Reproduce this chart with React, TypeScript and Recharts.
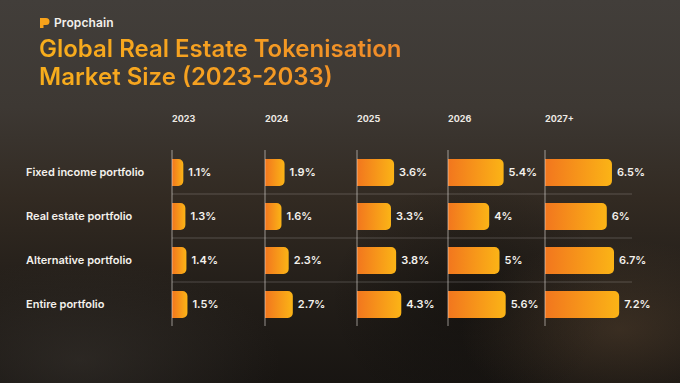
import React from 'react';
import { BarChart, Bar, XAxis, YAxis, CartesianGrid, ReferenceLine, LabelList } from 'recharts';

const categories = ['Fixed income portfolio', 'Real estate portfolio', 'Alternative portfolio', 'Entire portfolio'];
const years = ['2023', '2024', '2025', '2026', '2027+'];
const share2023 = [1.1, 1.3, 1.4, 1.5];
const share2024 = [1.9, 1.6, 2.3, 2.7];
const share2025 = [3.6, 3.3, 3.8, 4.3];
const share2026 = [5.4, 4, 5, 5.6];
const share2027 = [6.5, 6, 6.7, 7.2];

const seriesByYear = [share2023, share2024, share2025, share2026, share2027];

// layout
const colLeft = [172, 265, 357, 448, 545];
const colWidth = [93, 92, 91, 97, 87];
const labelLeft = 26;
const pxPerUnit = 10.3;
const font = 'Inter, "Noto Sans", sans-serif';

function RowTick(props: any) {
  const { y, payload } = props;
  return (
    <text x={0} y={y} dy="0.35em" textAnchor="start" fill="#f4f1ec" fontSize={11} fontWeight={600} fontFamily={font}>
      {payload.value}
    </text>
  );
}

function YearColumn({ idx }: { idx: number }) {
  const first = idx === 0;
  const axisW = first ? colLeft[0] - labelLeft : 0;
  const w = colWidth[idx];
  const data = categories.map((c, i) => ({ name: c, value: seriesByYear[idx][i] }));
  const gid = `barGrad${idx}`;
  return (
    <div style={{ position: 'absolute', left: first ? labelLeft : colLeft[idx], top: 100 }}>
      <BarChart
        width={axisW + w}
        height={230}
        data={data}
        layout="vertical"
        margin={{ top: 50, right: 0, bottom: 4, left: 0 }}
        barCategoryGap={8}
      >
        <defs>
          <linearGradient id={gid} x1="0" y1="0" x2="1" y2="0">
            <stop offset="0%" stopColor="#f2761e" />
            <stop offset="100%" stopColor="#fbb416" />
          </linearGradient>
        </defs>
        <CartesianGrid
          vertical={false}
          stroke="rgba(255,255,255,0.2)"
          horizontalCoordinatesGenerator={({ offset }: any) =>
            [1, 2, 3].map((i) => offset.top + (offset.height * i) / categories.length)
          }
        />
        <XAxis type="number" hide domain={[0, w / pxPerUnit]} />
        {first ? (
          <YAxis type="category" dataKey="name" width={axisW} axisLine={false} tickLine={false} tick={<RowTick />} />
        ) : (
          <YAxis type="category" dataKey="name" hide />
        )}
        <ReferenceLine x={0} stroke="rgba(230,225,220,0.6)" strokeWidth={1} />
        <Bar dataKey="value" fill={`url(#${gid})`} barSize={27} radius={[0, 5, 5, 0]} isAnimationActive={false}>
          <LabelList
            dataKey="value"
            position="right"
            offset={5}
            formatter={(v: any) => `${v}%`}
            fill="#f4f1ec"
            fontSize={11}
            fontWeight={600}
            fontFamily={font}
          />
        </Bar>
      </BarChart>
    </div>
  );
}

export default function App() {
  return (
    <div
      style={{
        position: 'relative',
        width: 680,
        height: 383,
        overflow: 'hidden',
        fontFamily: font,
        background:
          'radial-gradient(ellipse 160px 90px at 620px 330px, rgba(120,90,60,0.3), transparent),' +
          'radial-gradient(ellipse 200px 100px at 80px 360px, rgba(60,55,50,0.5), transparent),' +
          'radial-gradient(ellipse 140px 120px at 470px 300px, rgba(10,9,8,0.45), transparent),' +
          'linear-gradient(180deg, #423e3a 0%, #3d3833 28%, #322a22 52%, #231e19 76%, #181512 100%)',
      }}
    >
      <style>{`body{margin:0} .recharts-surface{overflow:visible}`}</style>
      <div style={{ position: 'absolute', left: 40, top: 15, display: 'flex', alignItems: 'center', gap: 4 }}>
        <svg width={10} height={10} viewBox="0 0 10 10">
          <path d="M0 0 H6 A3.5 3.5 0 0 1 6 7 H3.5 V10 H0 Z" fill="#f7a21b" />
        </svg>
        <span style={{ color: '#f2f0ec', fontSize: 12, fontWeight: 600, letterSpacing: 0.1 }}>Propchain</span>
      </div>
      <div
        style={{
          position: 'absolute',
          left: 39,
          top: 35,
          fontSize: 24,
          lineHeight: '28px',
          fontWeight: 600,
          background: 'linear-gradient(90deg, #f8ae1c 0%, #f59c22 60%, #ef8a2a 100%)',
          WebkitBackgroundClip: 'text',
          backgroundClip: 'text',
          color: 'transparent',
        }}
      >
        Global Real Estate Tokenisation
        <br />
        Market Size (2023-2033)
      </div>
      {years.map((y, i) => (
        <div
          key={y}
          style={{ position: 'absolute', left: colLeft[i], top: 113, fontSize: 9, fontWeight: 700, color: '#ece9e4' }}
        >
          {y}
        </div>
      ))}
      {years.map((y, i) => (
        <YearColumn key={y} idx={i} />
      ))}
    </div>
  );
}
